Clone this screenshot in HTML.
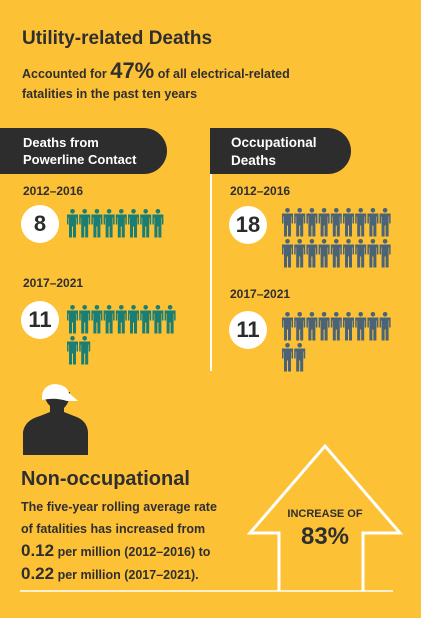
<!DOCTYPE html>
<html><head><meta charset="utf-8">
<style>
body{margin:0;}
#root{position:relative;width:421px;height:618px;background:#FDC136;overflow:hidden;font-family:"Liberation Sans",sans-serif;color:#2f2f2f;}
.t{position:absolute;white-space:nowrap;font-weight:bold;font-family:'Liberation Sans',sans-serif;}
.banner{position:absolute;background:#2d2d2d;color:#fff;border-radius:0 24px 24px 0;}
.circ{position:absolute;background:#fff;border-radius:50%;text-align:center;font-weight:bold;color:#2b2b2b;font-family:"Liberation Sans",sans-serif;}
</style></head>
<body>
<div id="root">
<div class="t" style="left:22px;top:28px;font-size:19px;">Utility-related Deaths</div>
<div class="t" style="left:22px;top:61px;font-size:12.5px;line-height:20px;">Accounted for <span style="font-size:22px;">47%</span> of all electrical-related<br>fatalities in the past ten years</div>

<div class="banner" style="left:0;top:128px;width:167px;height:46px;"><div style="position:absolute;left:23px;top:6px;font-size:13px;font-weight:bold;line-height:17px;">Deaths from<br>Powerline Contact</div></div>
<div class="banner" style="left:210px;top:128px;width:141px;height:46px;"><div style="position:absolute;left:21px;top:6px;font-size:13.5px;font-weight:bold;line-height:18px;">Occupational<br>Deaths</div></div>
<div style="position:absolute;left:210px;top:174px;width:2px;height:197px;background:#fff;"></div>

<div class="t" style="left:23px;top:184px;font-size:12px;">2012–2016</div>
<div class="t" style="left:23px;top:276px;font-size:12px;">2017–2021</div>
<div class="t" style="left:230px;top:184px;font-size:12px;">2012–2016</div>
<div class="t" style="left:230px;top:287px;font-size:12px;">2017–2021</div>

<div class="circ" style="left:21px;top:205px;width:38px;height:38px;line-height:38px;font-size:22px;">8</div>
<div class="circ" style="left:21px;top:301px;width:38px;height:38px;line-height:38px;font-size:22px;">11</div>
<div class="circ" style="left:229px;top:206px;width:38px;height:38px;line-height:38px;font-size:22px;">18</div>
<div class="circ" style="left:229px;top:311px;width:38px;height:38px;line-height:38px;font-size:22px;">11</div>

<svg id="icons" width="421" height="618" style="position:absolute;left:0;top:0;"></svg>

<svg width="421" height="618" style="position:absolute;left:0;top:0;">
<path d="M23 455 L23 432 Q25 420 40 416 L50 412 L50 406 Q44 400 44 392 L70 392 Q70 402 64 408 L64 412 L74 416 Q87 420 88 432 L88 455 Z" fill="#2d2d2d"/>
<path d="M42 396 Q43 385 55 384 Q67 385 69 393 L78 401 L67 401 Q55 397 42 400 Z" fill="#fff"/>
<polyline points="279,591 279,533 250,533 325,446 400,533 363,533 363,591" fill="none" stroke="#fff" stroke-width="3"/>
<line x1="20" y1="591" x2="393" y2="591" stroke="#fff" stroke-width="1.5"/>
</svg>

<div class="t" style="left:21px;top:468px;font-size:20px;">Non-occupational</div>
<div class="t" style="left:21px;top:496px;font-size:12.5px;line-height:22px;">The five-year rolling average rate<br>of fatalities has increased from<br><span style="font-size:17px;">0.12</span> per million (2012–2016) to<br><span style="font-size:17px;">0.22</span> per million (2017–2021).</div>
<div class="t" style="left:270px;top:508px;width:110px;text-align:center;font-size:11px;">INCREASE OF</div>
<div class="t" style="left:270px;top:523px;width:110px;text-align:center;font-size:24px;">83%</div>
</div>
<script>
const groups = ["powerline-2012-2016","powerline-2017-2021","occupational-2012-2016","occupational-2017-2021"];
const counts = [8, 11, 18, 11];
const colors = ["#1C7E72","#1C7E72","#4A6377","#4A6377"];
const originX = [67, 67, 282, 282];
const originY = [209, 305, 208, 312];
const perRow = 9, stepX = 12.2, stepY = 31;
const svg = document.getElementById('icons');
const NS = 'http://www.w3.org/2000/svg';
function person(x, y, c){
  const g = document.createElementNS(NS,'g');
  g.setAttribute('fill', c);
  const head = document.createElementNS(NS,'circle');
  head.setAttribute('cx', x+5.5); head.setAttribute('cy', y+2.3); head.setAttribute('r', 2.3);
  const body = document.createElementNS(NS,'path');
  body.setAttribute('d', `M${x} ${y+5.5} h11 v10 h-1.5 v-7 h-0.5 v20 h-3 v-11 h-1 v11 h-3 v-20 h-0.5 v7 h-1.5 z`);
  g.appendChild(head); g.appendChild(body);
  return g;
}
for(let gi=0; gi<groups.length; gi++){
  for(let i=0;i<counts[gi];i++){
    const col = i%perRow, row = Math.floor(i/perRow);
    const p = person(originX[gi]+col*stepX, originY[gi]+row*stepY, colors[gi]);
    
    
    svg.appendChild(p);
  }
}
</script>
</body></html>
